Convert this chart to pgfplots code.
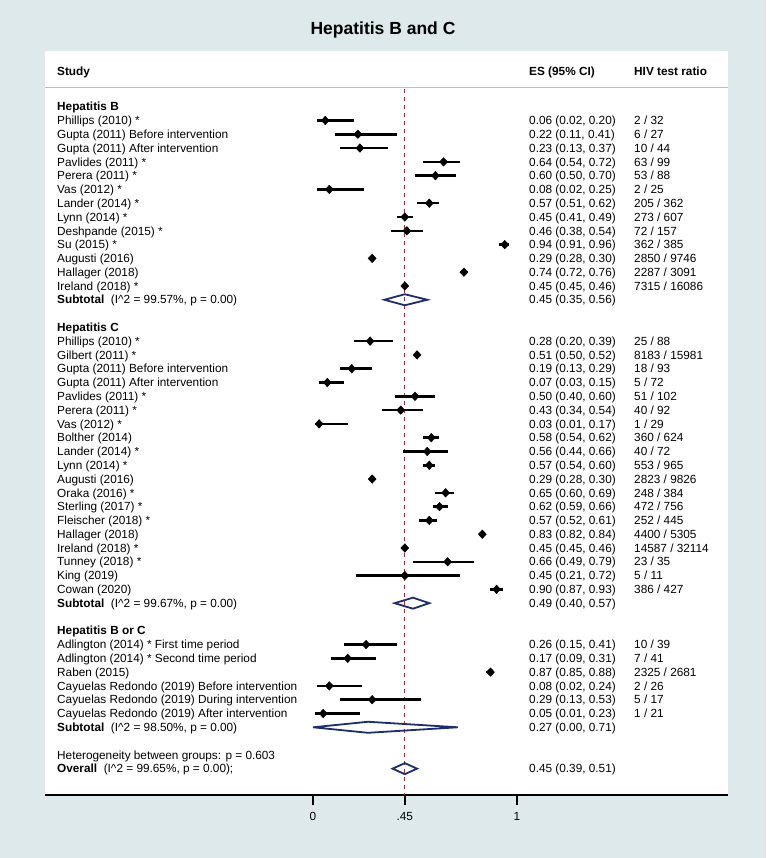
\documentclass[border=0pt]{standalone}
\usepackage{fontspec}
\setmainfont{Liberation Sans}
\usepackage{pgfplots}
\usepackage{pgfplotstable}
\pgfplotsset{compat=1.18}
\definecolor{bgcol}{RGB}{221,233,234}
\definecolor{navyd}{RGB}{30,45,110}
\definecolor{refred}{RGB}{165,40,60}
\definecolor{sepgray}{RGB}{190,190,190}

% row number (negative), estimate, lower, upper
\pgfplotstableread{
y es lo hi
-1 0.06 0.02 0.20
-2 0.22 0.11 0.41
-3 0.23 0.13 0.37
-4 0.64 0.54 0.72
-5 0.60 0.50 0.70
-6 0.08 0.02 0.25
-7 0.57 0.51 0.62
-8 0.45 0.41 0.49
-9 0.46 0.38 0.54
-10 0.94 0.91 0.96
-11 0.29 0.28 0.30
-12 0.74 0.72 0.76
-13 0.45 0.45 0.46
}\hepb
\pgfplotstableread{
y es lo hi
-17 0.28 0.20 0.39
-18 0.51 0.50 0.52
-19 0.19 0.13 0.29
-20 0.07 0.03 0.15
-21 0.50 0.40 0.60
-22 0.43 0.34 0.54
-23 0.03 0.01 0.17
-24 0.58 0.54 0.62
-25 0.56 0.44 0.66
-26 0.57 0.54 0.60
-27 0.29 0.28 0.30
-28 0.65 0.60 0.69
-29 0.62 0.59 0.66
-30 0.57 0.52 0.61
-31 0.83 0.82 0.84
-32 0.45 0.45 0.46
-33 0.66 0.49 0.79
-34 0.45 0.21 0.72
-35 0.90 0.87 0.93
}\hepc
\pgfplotstableread{
y es lo hi
-39 0.26 0.15 0.41
-40 0.17 0.09 0.31
-41 0.87 0.85 0.88
-42 0.08 0.02 0.24
-43 0.29 0.13 0.53
-44 0.05 0.01 0.23
}\hepbc

\tikzset{txt/.style={anchor=base west, inner sep=0pt, yshift=-4.2pt, font=\fontsize{11.8}{14}\selectfont}}
\newcommand{\row}[4]{%
  \node[txt] at (axis cs:-1.2549,-#1) {#2};
  \node[txt] at (axis cs:1.0588,-#1) {#3};
  \node[txt] at (axis cs:1.5735,-#1) {#4};}
\pgfplotsset{study/.style={only marks, mark=diamond*, mark size=4.3pt, black,
  mark options={xscale=1.25},
  error bars/.cd, x dir=both, x explicit, error mark=none,
  error bar style={line width=2.5pt, black}}}

\begin{document}
\begin{tikzpicture}
\fill[bgcol] (0pt,0pt) rectangle (766pt,858pt);
\fill[white] (45pt,63pt) rectangle (728pt,807pt);
\draw[sepgray, line width=1.5pt] (45pt,770.7pt) -- (728pt,770.7pt);
\node[font=\bfseries\fontsize{17.5}{20}\selectfont, anchor=base] at (383pt,823.7pt) {Hepatitis B and C};
\begin{axis}[
  at={(45pt,63pt)}, anchor=south west,
  scale only axis, width=683pt, height=744pt,
  xmin=-1.3137, xmax=2.0343, ymin=-49.91, ymax=4.039,
  axis x line*=bottom, axis y line=none,
  axis line style={black, line width=1.5pt},
  clip=false,
  xtick={0,0.45,1}, xticklabels={0,.45,1},
  ytick=\empty,
  tick align=outside, major tick length=10pt,
  every tick/.style={black, line width=1.5pt},
  xticklabel style={anchor=base, yshift=-15pt, font=\fontsize{11.8}{14}\selectfont},
  /pgf/number format/assume math mode=true,
]
% reference line
\addplot[refred, line width=1.3pt, dash pattern=on 4.5pt off 3.5pt] coordinates {(0.45,1.30) (0.45,-49.91)};
% studies
\addplot[study] table[x=es, y=y, x error plus expr=\thisrow{hi}-\thisrow{es}, x error minus expr=\thisrow{es}-\thisrow{lo}] {\hepb};
\addplot[study] table[x=es, y=y, x error plus expr=\thisrow{hi}-\thisrow{es}, x error minus expr=\thisrow{es}-\thisrow{lo}] {\hepc};
\addplot[study] table[x=es, y=y, x error plus expr=\thisrow{hi}-\thisrow{es}, x error minus expr=\thisrow{es}-\thisrow{lo}] {\hepbc};
% pooled diamonds
\addplot[navyd, line width=1.8pt, line join=miter] coordinates {(0.35,-14) (0.45,-13.6) (0.56,-14) (0.45,-14.4)} -- cycle;
\addplot[navyd, line width=1.8pt, line join=miter] coordinates {(0.40,-36) (0.49,-35.6) (0.57,-36) (0.49,-36.4)} -- cycle;
\addplot[navyd, line width=1.8pt, line join=miter] coordinates {(0.00,-45) (0.27,-44.6) (0.71,-45) (0.27,-45.4)} -- cycle;
\addplot[navyd, line width=1.8pt, line join=miter] coordinates {(0.39,-48) (0.45,-47.6) (0.51,-48) (0.45,-48.4)} -- cycle;
% header
\node[txt, font=\bfseries\fontsize{11.8}{14}\selectfont] at (axis cs:-1.2549,2.538) {Study};
\node[txt, font=\bfseries\fontsize{11.8}{14}\selectfont] at (axis cs:1.0588,2.538) {ES (95\% CI)};
\node[txt, font=\bfseries\fontsize{11.8}{14}\selectfont] at (axis cs:1.5735,2.538) {HIV test ratio};
% Hepatitis B
\row{0}{\textbf{Hepatitis B}}{}{}
\row{1}{Phillips (2010) *}{0.06 (0.02, 0.20)}{2 / 32}
\row{2}{Gupta (2011) Before intervention}{0.22 (0.11, 0.41)}{6 / 27}
\row{3}{Gupta (2011) After intervention}{0.23 (0.13, 0.37)}{10 / 44}
\row{4}{Pavlides (2011) *}{0.64 (0.54, 0.72)}{63 / 99}
\row{5}{Perera (2011) *}{0.60 (0.50, 0.70)}{53 / 88}
\row{6}{Vas (2012) *}{0.08 (0.02, 0.25)}{2 / 25}
\row{7}{Lander (2014) *}{0.57 (0.51, 0.62)}{205 / 362}
\row{8}{Lynn (2014) *}{0.45 (0.41, 0.49)}{273 / 607}
\row{9}{Deshpande (2015) *}{0.46 (0.38, 0.54)}{72 / 157}
\row{10}{Su (2015) *}{0.94 (0.91, 0.96)}{362 / 385}
\row{11}{Augusti (2016)}{0.29 (0.28, 0.30)}{2850 / 9746}
\row{12}{Hallager (2018)}{0.74 (0.72, 0.76)}{2287 / 3091}
\row{13}{Ireland (2018) *}{0.45 (0.45, 0.46)}{7315 / 16086}
\row{14}{\textbf{Subtotal}\ \ (I\textasciicircum 2 = 99.57\%, p = 0.00)}{0.45 (0.35, 0.56)}{}
% Hepatitis C
\row{16}{\textbf{Hepatitis C}}{}{}
\row{17}{Phillips (2010) *}{0.28 (0.20, 0.39)}{25 / 88}
\row{18}{Gilbert (2011) *}{0.51 (0.50, 0.52)}{8183 / 15981}
\row{19}{Gupta (2011) Before intervention}{0.19 (0.13, 0.29)}{18 / 93}
\row{20}{Gupta (2011) After intervention}{0.07 (0.03, 0.15)}{5 / 72}
\row{21}{Pavlides (2011) *}{0.50 (0.40, 0.60)}{51 / 102}
\row{22}{Perera (2011) *}{0.43 (0.34, 0.54)}{40 / 92}
\row{23}{Vas (2012) *}{0.03 (0.01, 0.17)}{1 / 29}
\row{24}{Bolther (2014)}{0.58 (0.54, 0.62)}{360 / 624}
\row{25}{Lander (2014) *}{0.56 (0.44, 0.66)}{40 / 72}
\row{26}{Lynn (2014) *}{0.57 (0.54, 0.60)}{553 / 965}
\row{27}{Augusti (2016)}{0.29 (0.28, 0.30)}{2823 / 9826}
\row{28}{Oraka (2016) *}{0.65 (0.60, 0.69)}{248 / 384}
\row{29}{Sterling (2017) *}{0.62 (0.59, 0.66)}{472 / 756}
\row{30}{Fleischer (2018) *}{0.57 (0.52, 0.61)}{252 / 445}
\row{31}{Hallager (2018)}{0.83 (0.82, 0.84)}{4400 / 5305}
\row{32}{Ireland (2018) *}{0.45 (0.45, 0.46)}{14587 / 32114}
\row{33}{Tunney (2018) *}{0.66 (0.49, 0.79)}{23 / 35}
\row{34}{King (2019)}{0.45 (0.21, 0.72)}{5 / 11}
\row{35}{Cowan (2020)}{0.90 (0.87, 0.93)}{386 / 427}
\row{36}{\textbf{Subtotal}\ \ (I\textasciicircum 2 = 99.67\%, p = 0.00)}{0.49 (0.40, 0.57)}{}
% Hepatitis B or C
\row{38}{\textbf{Hepatitis B or C}}{}{}
\row{39}{Adlington (2014) * First time period}{0.26 (0.15, 0.41)}{10 / 39}
\row{40}{Adlington (2014) * Second time period}{0.17 (0.09, 0.31)}{7 / 41}
\row{41}{Raben (2015)}{0.87 (0.85, 0.88)}{2325 / 2681}
\row{42}{Cayuelas Redondo (2019) Before intervention}{0.08 (0.02, 0.24)}{2 / 26}
\row{43}{Cayuelas Redondo (2019) During intervention}{0.29 (0.13, 0.53)}{5 / 17}
\row{44}{Cayuelas Redondo (2019) After intervention}{0.05 (0.01, 0.23)}{1 / 21}
\row{45}{\textbf{Subtotal}\ \ (I\textasciicircum 2 = 98.50\%, p = 0.00)}{0.27 (0.00, 0.71)}{}
\row{47}{Heterogeneity between groups: p = 0.603}{}{}
\row{48}{\textbf{Overall}\ \ (I\textasciicircum 2 = 99.65\%, p = 0.00);}{0.45 (0.39, 0.51)}{}
\end{axis}
\end{tikzpicture}
\end{document}
